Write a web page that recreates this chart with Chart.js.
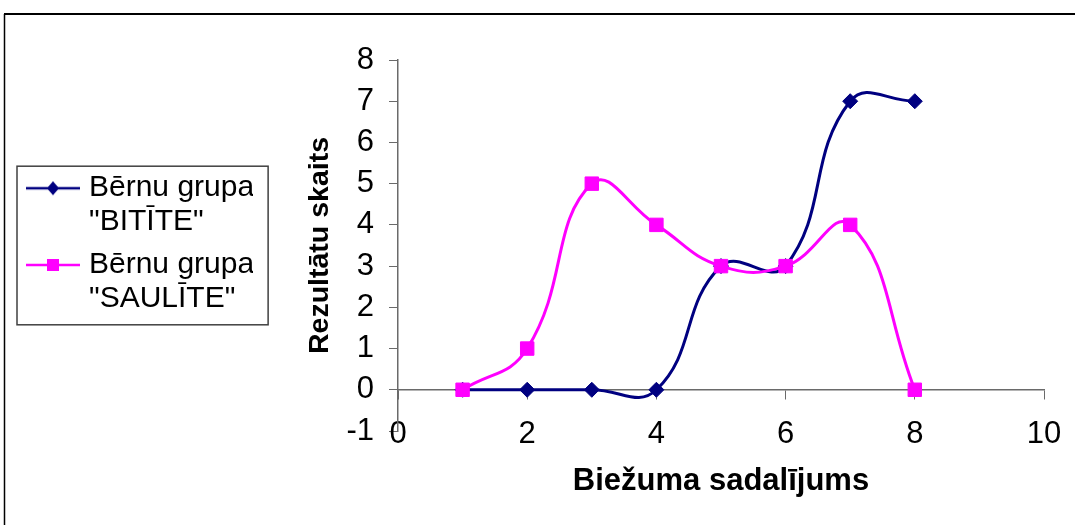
<!DOCTYPE html>
<html>
<head>
<meta charset="utf-8">
<title>Biežuma sadalījums</title>
<script src="https://cdn.jsdelivr.net/npm/chart.js@4.4.1/dist/chart.umd.min.js"></script>
<style>
  body { margin: 0; background: #ffffff; }
  #chart { display: block; }
</style>
</head>
<body>
<canvas id="chart" width="1075" height="525"></canvas>
<script>
// data
var xValues = [1, 2, 3, 4, 5, 6, 7, 8];
var bititeValues = [0, 0, 0, 0, 3, 3, 7, 7];
var sauliteValues = [0, 1, 5, 4, 3, 3, 4, 0];
var seriesNames = [["Bērnu grupa", "\"BITĪTE\""], ["Bērnu grupa", "\"SAULĪTE\""]];
var seriesColors = ["#000080", "#ff00ff"];
var xTicks = [0, 2, 4, 6, 8, 10];
var yTicks = [-1, 0, 1, 2, 3, 4, 5, 6, 7, 8];
var xTitle = "Biežuma sadalījums";
var yTitle = "Rezultātu skaits";

var axisColor = "#6a6a6a";
var fontName = "'Liberation Sans', Arial, sans-serif";

Chart.defaults.font.family = fontName;
Chart.defaults.color = "#000000";

function toPoints(values) {
    var pts = [];
    for (var i = 0; i < xValues.length; i++) {
        pts.push({x: xValues[i], y: values[i]});
    }
    return pts;
}

// small line + marker picture used as legend symbol
function makeIcon(color, shape) {
    var c = document.createElement("canvas");
    c.width = 54;
    c.height = 18;
    var ctx = c.getContext("2d");
    ctx.strokeStyle = color;
    ctx.lineWidth = 2.5;
    ctx.beginPath();
    ctx.moveTo(0, 9);
    ctx.lineTo(54, 9);
    ctx.stroke();
    ctx.fillStyle = color;
    ctx.beginPath();
    if (shape == "diamond") {
        ctx.moveTo(27, 2); ctx.lineTo(33, 9); ctx.lineTo(27, 16); ctx.lineTo(21, 9);
    } else {
        ctx.rect(21, 3, 12, 12);
    }
    ctx.fill();
    return c;
}
var legendIcons = [makeIcon(seriesColors[0], "diamond"), makeIcon(seriesColors[1], "square")];

// outer frame of the picture and box round the legend
var framePlugin = {
    id: "framePlugin",
    beforeDraw: function(chart) {
        var ctx = chart.ctx;
        ctx.save();
        ctx.fillStyle = "#ffffff";
        ctx.fillRect(0, 0, chart.width, chart.height);
        ctx.strokeStyle = "#000000";
        ctx.lineWidth = 2;
        ctx.beginPath();
        ctx.moveTo(4, 14);
        ctx.lineTo(chart.width + 5, 14);
        ctx.stroke();
        ctx.lineWidth = 1.5;
        ctx.beginPath();
        ctx.moveTo(4.5, 14);
        ctx.lineTo(4.5, chart.height + 5);
        ctx.stroke();
        ctx.restore();
    },
    afterDraw: function(chart) {
        var boxes = chart.legend.legendHitBoxes;
        if (!boxes || boxes.length == 0) return;
        var first = boxes[0];
        var last = boxes[boxes.length - 1];
        var right = 0;
        for (var i = 0; i < boxes.length; i++) {
            right = Math.max(right, boxes[i].left + boxes[i].width);
        }
        var ctx = chart.ctx;
        ctx.save();
        ctx.strokeStyle = "#404040";
        ctx.lineWidth = 1.5;
        var l = first.left - 15, t = first.top - 7;
        ctx.strokeRect(l, t, right + 14 - l, last.top + last.height + 7 - t);
        ctx.restore();
    }
};

new Chart("chart", {
    type: "line",
    data: {
        datasets: [{
            label: seriesNames[0].join(" "),
            data: toPoints(bititeValues),
            borderColor: seriesColors[0],
            backgroundColor: seriesColors[0],
            borderWidth: 3,
            pointStyle: "rectRot",
            pointRadius: 7.5,
            pointBorderWidth: 1,
            tension: 0.45,
            order: 1
        }, {
            label: seriesNames[1].join(" "),
            data: toPoints(sauliteValues),
            borderColor: seriesColors[1],
            backgroundColor: seriesColors[1],
            borderWidth: 3,
            pointStyle: "rect",
            pointRadius: 9.5,
            pointBorderWidth: 1,
            tension: 0.45,
            order: 0
        }]
    },
    options: {
        responsive: false,
        animation: false,
        devicePixelRatio: 1,
        layout: {padding: {left: 23, right: 31, top: 60, bottom: 0}},
        plugins: {
            tooltip: {enabled: false},
            legend: {
                position: "left",
                fullSize: false,
                align: "center",
                maxWidth: 230,
                labels: {
                    usePointStyle: true,
                    pointStyleWidth: 42,
                    boxHeight: 18,
                    padding: 9,
                    color: "#000000",
                    font: {size: 30, lineHeight: 1.13},
                    generateLabels: function(chart) {
                        var items = [];
                        for (var i = 0; i < seriesNames.length; i++) {
                            items.push({
                                text: seriesNames[i],
                                pointStyle: legendIcons[i],
                                fillStyle: seriesColors[i],
                                strokeStyle: seriesColors[i],
                                lineWidth: 0,
                                fontColor: "#000000",
                                hidden: false,
                                datasetIndex: i
                            });
                        }
                        return items;
                    }
                }
            }
        },
        scales: {
            // bottom axis only carries the title
            x: {
                type: "linear",
                position: "bottom",
                min: xTicks[0],
                max: xTicks[xTicks.length - 1],
                ticks: {stepSize: xTicks[1] - xTicks[0], display: false},
                grid: {display: false, drawTicks: false},
                border: {display: false},
                title: {display: true, text: xTitle, font: {size: 31, weight: "bold"}, padding: {top: 0, bottom: 25}},
                afterFit: function(s) { s.height = 94; }
            },
            // axis line crossing at y = 0, labels pushed down below the plot
            x2: {
                type: "linear",
                position: {y: 0},
                min: xTicks[0],
                max: xTicks[xTicks.length - 1],
                ticks: {stepSize: xTicks[1] - xTicks[0], padding: 17, font: {size: 31}, color: "#000000"},
                grid: {display: true, drawOnChartArea: false, drawTicks: true, tickLength: 9, color: axisColor},
                border: {display: true, color: axisColor, width: 1.5},
                afterFit: function(s) { s.paddingLeft = 0; s.paddingRight = 0; }
            },
            y: {
                type: "linear",
                position: "left",
                min: yTicks[0],
                max: yTicks[yTicks.length - 1],
                ticks: {stepSize: yTicks[1] - yTicks[0], padding: 15, font: {size: 31}, color: "#000000"},
                grid: {display: true, drawOnChartArea: false, drawTicks: true, tickLength: 9, color: axisColor},
                border: {display: true, color: axisColor, width: 1.5},
                title: {display: true, text: yTitle, font: {size: 28.5, weight: "bold"}, padding: {top: 50, bottom: 0}},
                afterFit: function(s) { s.width = 145; }
            }
        }
    },
    plugins: [framePlugin]
});
</script>
</body>
</html>
